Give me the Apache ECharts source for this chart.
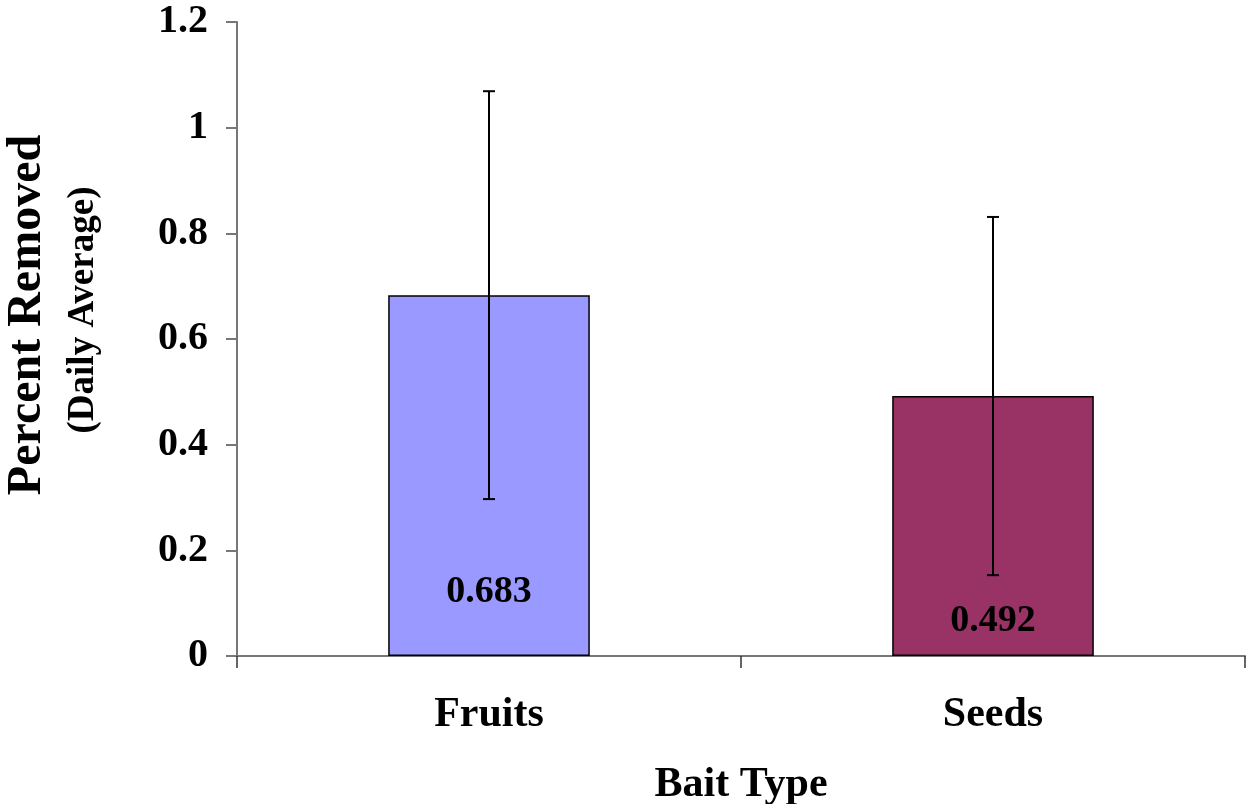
<!DOCTYPE html>
<html>
<head>
<meta charset="utf-8">
<script src="https://cdn.jsdelivr.net/npm/echarts@6/dist/echarts.min.js"></script>
<style>html,body{margin:0;padding:0;background:#fff}#c{width:1252px;height:804px}</style>
</head>
<body>
<div id="c"></div>
<script>
const categories = ['Fruits', 'Seeds'];
const values = [0.683, 0.492];
const errors = [0.386, 0.339];
const colors = ['#9999FF', '#993366'];
const labelDistances = [45, 16];
const yTicks = { min: 0, max: 1.2, interval: 0.2 };

const FONT = '"Liberation Serif", "Times New Roman", serif';
const chart = echarts.init(document.getElementById('c'));
chart.setOption({
  animation: false,
  backgroundColor: '#fff',
  grid: { left: 237, right: 7, top: 22, bottom: 148, containLabel: false, outerBoundsMode: 'none' },
  xAxis: {
    type: 'category',
    data: categories,
    axisLine: { lineStyle: { color: '#777', width: 2 } },
    axisTick: { show: true, alignWithLabel: false, length: 12, lineStyle: { color: '#333', width: 1.5 } },
    axisLabel: { fontFamily: FONT, fontWeight: 'bold', fontSize: 42, color: '#000', margin: 38 },
    name: 'Bait Type',
    nameLocation: 'middle',
    nameGap: 108,
    nameTextStyle: { fontFamily: FONT, fontWeight: 'bold', fontSize: 42, color: '#000' }
  },
  yAxis: {
    type: 'value',
    min: yTicks.min, max: yTicks.max, interval: yTicks.interval,
    splitLine: { show: false },
    axisLine: { show: true, lineStyle: { color: '#777', width: 2 } },
    axisTick: { show: true, length: 11, lineStyle: { color: '#777', width: 2 } },
    axisLabel: {
      fontFamily: FONT, fontWeight: 'bold', fontSize: 40, color: '#000', margin: 29,
      formatter: v => (Math.round(v * 10) / 10).toString()
    }
  },
  graphic: [
    { type: 'text', x: 28, y: 315, rotation: Math.PI / 2,
      style: { text: 'Percent Removed', font: 'bold 48px ' + FONT, fill: '#000', textAlign: 'center', textVerticalAlign: 'middle' } },
    { type: 'text', x: 83, y: 310, rotation: Math.PI / 2,
      style: { text: '(Daily Average)', font: 'bold 37px ' + FONT, fill: '#000', textAlign: 'center', textVerticalAlign: 'middle' } }
  ],
  series: [
    {
      type: 'bar',
      barWidth: '40%',
      data: values.map((v, i) => ({
        value: v,
        itemStyle: { color: colors[i], borderColor: '#000', borderWidth: 1.5 },
        label: { distance: labelDistances[i] }
      })),
      label: {
        show: true, position: 'insideBottom',
        fontFamily: FONT, fontWeight: 'bold', fontSize: 38, color: '#000',
        formatter: p => p.value.toFixed(3)
      }
    },
    {
      type: 'custom',
      data: values.map((v, i) => [i, v - errors[i], v + errors[i]]),
      renderItem: function (params, api) {
        const x = api.value(0);
        const lo = api.coord([x, api.value(1)]);
        const hi = api.coord([x, api.value(2)]);
        const cap = 6;
        const st = { stroke: '#000', lineWidth: 2 };
        return { type: 'group', children: [
          { type: 'line', shape: { x1: lo[0], y1: lo[1], x2: hi[0], y2: hi[1] }, style: st },
          { type: 'line', shape: { x1: hi[0] - cap, y1: hi[1], x2: hi[0] + cap, y2: hi[1] }, style: st },
          { type: 'line', shape: { x1: lo[0] - cap, y1: lo[1], x2: lo[0] + cap, y2: lo[1] }, style: st }
        ]};
      },
      z: 10
    }
  ]
});
</script>
</body>
</html>
